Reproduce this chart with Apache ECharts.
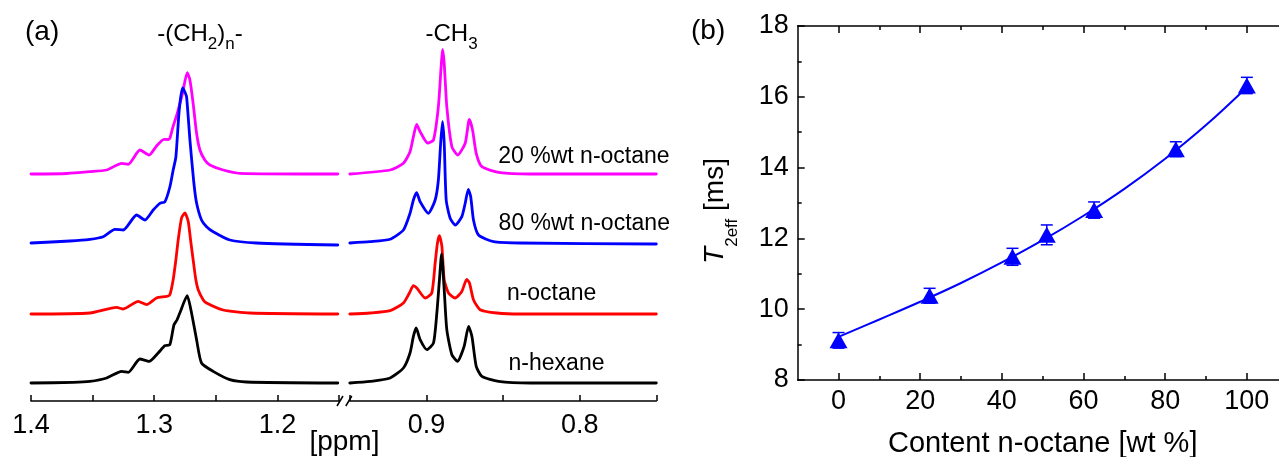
<!DOCTYPE html>
<html>
<head>
<meta charset="utf-8">
<title>1H NMR spectra of alkanes and effective T2</title>
<script src="https://cdn.jsdelivr.net/npm/echarts@6.0.0/dist/echarts.min.js"></script>
<style>
  html, body { margin: 0; padding: 0; background: #ffffff; }
  #chart { width: 1279px; height: 457px; }
</style>
</head>
<body>
<div id="chart"></div>
<script>
// ---------- (a) 1H NMR spectra: [chemical shift / ppm, intensity above baseline / a.u.] ----------
// -(CH2)n- region
const hexaneCH2 = [[1.4,0],[1.3657,0.6],[1.3522,1.6],[1.3386,5],[1.3264,11.6],[1.3211,10.6],[1.3116,24],[1.3041,21.6],[1.2968,30],[1.2913,37.3],[1.2873,38.3],[1.2840,58],[1.2815,63],[1.2792,70],[1.2732,87.3],[1.2697,70],[1.2656,43.3],[1.2616,20],[1.2521,11.6],[1.2386,3.3],[1.2251,1],[1.151,0]];
const octaneCH2 = [[1.4,0],[1.3522,1],[1.3305,6.6],[1.3251,5],[1.3130,12.6],[1.3062,9.3],[1.2981,16],[1.2899,17.6],[1.2873,19.3],[1.2846,34.3],[1.2824,54.3],[1.2805,74.3],[1.2778,96],[1.2751,101],[1.2724,92.6],[1.2705,74.3],[1.2684,54.3],[1.2662,34.3],[1.2643,24.3],[1.2603,14.3],[1.2575,11],[1.2440,4],[1.2224,1],[1.151,0]];
const mix80CH2 = [[1.4,0],[1.3684,2],[1.3522,3.7],[1.3414,6.3],[1.3319,13.7],[1.3251,13],[1.3143,28],[1.3075,23],[1.3008,33],[1.2954,39.7],[1.2913,41.3],[1.2873,56],[1.2846,73],[1.2824,86],[1.2797,133],[1.2770,155],[1.2751,151],[1.2737,146],[1.2710,103],[1.2678,60],[1.2656,40],[1.2616,23],[1.2575,16.3],[1.2521,11.3],[1.2386,3],[1.2170,0],[1.151,-2]];
const mix20CH2 = [[1.4,0],[1.3708,0.5],[1.3522,2.3],[1.3386,4],[1.3264,10.7],[1.3211,9.7],[1.3116,24],[1.3041,19],[1.2981,28],[1.2921,34.7],[1.2886,34.5],[1.2873,35.7],[1.2851,45.7],[1.2813,60.7],[1.2770,80.7],[1.2732,101.3],[1.2710,94],[1.2684,70.7],[1.2656,40.7],[1.2629,24],[1.2589,14],[1.2548,9],[1.2440,4],[1.2305,0.7],[1.151,0]];
// -CH3 region
const hexaneCH3 = [[0.95,0],[0.9368,1.6],[0.9237,5],[0.9150,15],[0.9107,30],[0.9085,46.6],[0.9067,55],[0.9041,43.3],[0.8997,33.3],[0.8954,40],[0.8932,70],[0.8915,103.3],[0.8901,129],[0.8884,93.3],[0.8867,53.3],[0.8834,28.3],[0.8797,21.6],[0.8754,36.6],[0.8725,56.6],[0.8703,46.6],[0.8675,16.6],[0.8638,6.6],[0.8529,1.6],[0.8322,0],[0.75,0]];
const octaneCH3 = [[0.95,0],[0.9368,1],[0.9237,3.3],[0.9150,11],[0.9111,21],[0.9085,28.3],[0.9063,26],[0.9008,16],[0.8965,21],[0.8943,51],[0.8928,71],[0.8915,78.3],[0.8899,67.6],[0.8884,34.3],[0.8856,21],[0.8812,16],[0.8769,22.6],[0.8737,34.5],[0.8719,31],[0.8693,14.3],[0.8650,4.3],[0.8540,1],[0.8388,0],[0.75,0]];
const mix80CH3 = [[0.95,0],[0.9368,1.3],[0.9237,3.7],[0.9150,13],[0.9107,29.7],[0.9085,43],[0.9064,50.3],[0.9041,41.3],[0.8987,29.7],[0.8943,43],[0.8922,63],[0.8907,100],[0.8895,121.3],[0.8884,100],[0.8871,43],[0.8845,24.7],[0.8812,18],[0.8769,26.3],[0.8747,39.7],[0.8727,53.7],[0.8711,46.3],[0.8693,23],[0.8660,8],[0.8562,1.3],[0.8388,0],[0.75,-1]];
const mix20CH3 = [[0.95,0],[0.9237,4],[0.9150,10.7],[0.9107,22.3],[0.9085,37.3],[0.9064,49.5],[0.9041,42.3],[0.8992,31],[0.8954,34],[0.8922,67.3],[0.8904,107.3],[0.8895,124.5],[0.8884,110.7],[0.8867,67.3],[0.8834,27.3],[0.8796,19],[0.8747,30.7],[0.8720,54.5],[0.8699,44],[0.8675,20.7],[0.8638,7.3],[0.8518,1.3],[0.8322,0],[0.75,0]];

const spectrumNames = ['20 %wt n-octane', '80 %wt n-octane', 'n-octane', 'n-hexane'];
// vertical stacking of the traces, in intensity units
const stackOffsets = [227, 158, 87, 18];

// axis tick labels of (a)
const ppmLabelsLeft = [1.4, 1.3, 1.2];
const ppmLabelsRight = [0.9, 0.8];

// ---------- (b) effective T2 vs. n-octane content ----------
const octaneContent = [0, 22.3, 42.6, 51, 62.6, 82.6, 100];
const t2eff = [9.12, 10.38, 11.48, 12.10, 12.80, 14.52, 16.32];
const t2effErr = [0.22, 0.21, 0.24, 0.28, 0.23, 0.21, 0.23];
const fitContent = [0, 10, 20, 30, 40, 50, 60, 70, 80, 90, 100];
const fitT2eff = [9.22, 9.71, 10.21, 10.74, 11.32, 11.95, 12.64, 13.40, 14.25, 15.20, 16.27];

const contentLabels = [0, 20, 40, 60, 80, 100];
const contentMinorTicks = [10, 30, 50, 70, 90];
const t2Labels = [8, 10, 12, 14, 16, 18];

// ---------- styling ----------
const FONT = "'Liberation Sans', Arial, Helvetica, sans-serif";
const traceColors = ['#ff00ff', '#0000ff', '#ff0000', '#000000'];
const traceData = [[mix20CH2, mix20CH3], [mix80CH2, mix80CH3], [octaneCH2, octaneCH3], [hexaneCH2, hexaneCH3]];
const BLUE = '#0000ff';
const TICK_FONT = 27;

const chart = echarts.init(document.getElementById('chart'), null, { renderer: 'canvas' });

const axisLineStyle = { show: true, onZero: false, lineStyle: { color: '#000', width: 1.5 } };
const noSplit = { show: false };

function ppmAxis(gridIndex, min, max, labels) {
  return {
    type: 'value', gridIndex, min, max, interval: 0.05, inverse: true,
    axisLine: axisLineStyle,
    axisTick: { show: true, inside: true, length: 6, lineStyle: { color: '#000', width: 1.5 } },
    axisLabel: { customValues: labels, fontSize: TICK_FONT, fontFamily: FONT, color: '#000', margin: 11,
                 formatter: v => v.toFixed(1) },
    splitLine: noSplit
  };
}

function contentAxis(position, ticks, tickLen, showLine, showLabels) {
  return {
    type: 'value', gridIndex: 2, position, offset: 0, min: -10, max: 110,
    axisLine: showLine ? axisLineStyle : { show: false },
    axisTick: { show: true, inside: true, length: tickLen, customValues: ticks,
                lineStyle: { color: '#000', width: 1.5 } },
    axisLabel: showLabels
      ? { show: true, customValues: contentLabels, fontSize: TICK_FONT, fontFamily: FONT, color: '#000', margin: 8 }
      : { show: false },
    splitLine: noSplit
  };
}

const series = [];
traceData.forEach((pair, i) => {
  pair.forEach((pts, seg) => {
    series.push({
      type: 'line', name: spectrumNames[i],
      xAxisIndex: seg, yAxisIndex: seg,
      data: pts.map(p => [p[0], p[1] + stackOffsets[i]]),
      showSymbol: false, symbol: 'none', smooth: 0.2,
      lineStyle: { color: traceColors[i], width: 2.8, join: 'round', cap: 'round' },
      silent: true, animation: false, z: 2 + i
    });
  });
});

series.push({
  type: 'line', xAxisIndex: 2, yAxisIndex: 2,
  data: fitContent.map((c, i) => [c, fitT2eff[i]]),
  showSymbol: false, symbol: 'none', smooth: 0.4,
  lineStyle: { color: BLUE, width: 2 }, animation: false, z: 3
});
series.push({
  type: 'scatter', xAxisIndex: 2, yAxisIndex: 2,
  data: octaneContent.map((c, i) => [c, t2eff[i]]),
  symbol: 'triangle', symbolSize: [18, 16],
  itemStyle: { color: BLUE, opacity: 1 }, animation: false, z: 4
});
series.push({
  type: 'custom', xAxisIndex: 2, yAxisIndex: 2,
  data: octaneContent.map((c, i) => [c, t2eff[i], t2effErr[i]]),
  encode: { x: 0, y: 1 },
  renderItem: (params, api) => {
    const x = api.value(0), y = api.value(1), e = api.value(2);
    const hi = api.coord([x, y + e]);
    const lo = api.coord([x, y - e]);
    const hw = 6;
    const st = { stroke: BLUE, lineWidth: 1.5 };
    return {
      type: 'group',
      children: [
        { type: 'line', shape: { x1: hi[0], y1: hi[1], x2: lo[0], y2: lo[1] }, style: st },
        { type: 'line', shape: { x1: hi[0] - hw, y1: hi[1], x2: hi[0] + hw, y2: hi[1] }, style: st },
        { type: 'line', shape: { x1: lo[0] - hw, y1: lo[1], x2: lo[0] + hw, y2: lo[1] }, style: st }
      ]
    };
  },
  animation: false, z: 5
});

chart.setOption({
  backgroundColor: '#ffffff',
  animation: false,
  textStyle: { fontFamily: FONT, color: '#000' },
  grid: [
    { left: 31, top: 40, width: 308, height: 361, outerBoundsMode: 'none', containLabel: false },
    { left: 349.8, top: 40, width: 306.5, height: 361, outerBoundsMode: 'none', containLabel: false },
    { left: 797.7, top: 26, width: 490, height: 354, outerBoundsMode: 'none', containLabel: false }
  ],
  xAxis: [
    ppmAxis(0, 1.15, 1.4, ppmLabelsLeft),
    ppmAxis(1, 0.75, 0.95, ppmLabelsRight),
    contentAxis('bottom', contentLabels, 7, true, true),
    contentAxis('bottom', contentMinorTicks, 4, false, false),
    contentAxis('top', contentLabels, 7, true, false),
    contentAxis('top', contentMinorTicks, 4, false, false)
  ],
  yAxis: [
    { type: 'value', gridIndex: 0, min: 0, max: 361, show: false },
    { type: 'value', gridIndex: 1, min: 0, max: 361, show: false },
    {
      type: 'value', gridIndex: 2, min: t2Labels[0], max: t2Labels[t2Labels.length - 1], interval: 2,
      axisLine: axisLineStyle,
      axisTick: { show: true, inside: true, length: 7, lineStyle: { color: '#000', width: 1.5 } },
      minorTick: { show: true, splitNumber: 2, length: 4, lineStyle: { color: '#000', width: 1.5 } },
      axisLabel: { fontSize: TICK_FONT, fontFamily: FONT, color: '#000', margin: 9 },
      splitLine: noSplit, minorSplitLine: noSplit
    }
  ],
  series
});

// ---------- annotations placed through the axes ----------
const toPx = (idx, v) => chart.convertToPixel({ xAxisIndex: idx, yAxisIndex: idx }, v);
const graphics = [];

function addText(x, y, text, opts) {
  graphics.push({
    type: 'text', x, y, rotation: opts.rotation || 0, silent: true, z: 10,
    style: Object.assign({ text, fontFamily: FONT, fontSize: 23, fill: '#000',
                           align: 'left', verticalAlign: 'middle' }, opts.style || {})
  });
}

// panel letters
addText(25, 32, '(a)', { style: { fontSize: 28 } });
addText(691, 31, '(b)', { style: { fontSize: 28 } });

// group assignments above the peaks
const subRich = {
  m: { fontFamily: FONT, fontSize: 24, verticalAlign: 'top', lineHeight: 31 },
  s: { fontFamily: FONT, fontSize: 17, verticalAlign: 'bottom' }
};
const ch2Peak = toPx(0, [1.2732, 0]);
addText(ch2Peak[0] - 30, 22, '{m|-(CH}{s|2}{m|)}{s|n}{m|-}', { style: { verticalAlign: 'top', rich: subRich } });
const ch3Peak = toPx(1, [0.8895, 0]);
addText(ch3Peak[0] - 17, 22, '{m|-CH}{s|3}', { style: { verticalAlign: 'top', rich: subRich } });

// trace labels
const labelAnchors = [[0.8531, 17], [0.8529, 19], [0.8475, 20], [0.8464, 19]];
labelAnchors.forEach((a, i) => {
  const p = toPx(1, [a[0], stackOffsets[i] + a[1]]);
  addText(p[0], p[1], spectrumNames[i], {});
});

// shared chemical-shift unit and axis break marks
const axisY = toPx(0, [1.3, 0])[1];
const leftEnd = toPx(0, [1.15, 0])[0];
const rightStart = toPx(1, [0.95, 0])[0];
addText((leftEnd + rightStart) / 2, 442, '[ppm]', { style: { fontSize: 28, align: 'center' } });
[leftEnd + 1, rightStart - 1].forEach(x => {
  graphics.push({ type: 'line', silent: true, z: 10,
    shape: { x1: x - 3, y1: axisY + 5, x2: x + 3, y2: axisY - 5 },
    style: { stroke: '#000', lineWidth: 1.5 } });
});

// axis titles of (b)
const gridB = chart.getModel().getComponent('grid', 2).coordinateSystem.getRect();
addText(gridB.x + gridB.width / 2, 444, 'Content n-octane [wt %]', { style: { fontSize: 29, align: 'center' } });
addText(721, gridB.y + gridB.height / 2 + 8, '{t|T}{s|2eff}{m| [ms]}', {
  rotation: Math.PI / 2,
  style: {
    align: 'center',
    rich: {
      t: { fontFamily: FONT, fontSize: 28, fontStyle: 'italic', verticalAlign: 'top', lineHeight: 39 },
      m: { fontFamily: FONT, fontSize: 28, verticalAlign: 'top', lineHeight: 39 },
      s: { fontFamily: FONT, fontSize: 17, verticalAlign: 'bottom' }
    }
  }
});

chart.setOption({ graphic: graphics });
</script>
</body>
</html>
